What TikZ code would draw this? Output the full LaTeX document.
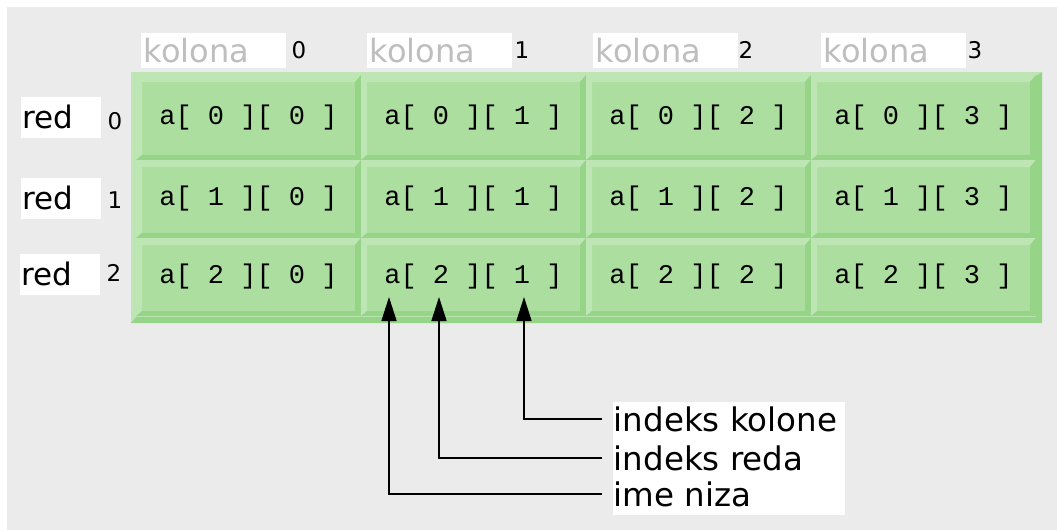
\documentclass[tikz,border=0pt]{standalone}
\usepackage{fontspec}
\setmainfont{DejaVu Sans}
\newfontfamily\cellfont{Liberation Mono}
\usetikzlibrary{arrows.meta}

\definecolor{bggray}{RGB}{235,235,235}
\definecolor{cellface}{RGB}{171,222,159}
\definecolor{celllite}{RGB}{190,230,180}
\definecolor{celldark}{RGB}{150,212,136}
\definecolor{kolgray}{RGB}{190,190,190}

\tikzset{
	every path/.style={line width=1.6pt},
	frame/.style={
		fill=celllite,
		minimum width=911pt,
		minimum height=251pt,
		inner sep=0pt,
		path picture={
			\fill[celldark] (path picture bounding box.south west) -- (path picture bounding box.south east)
				-- (path picture bounding box.north east) -- ([shift={(-6pt,-4pt)}]path picture bounding box.north east)
				-- ([shift={(-6pt,6pt)}]path picture bounding box.south east)
				-- ([shift={(5pt,6pt)}]path picture bounding box.south west) -- cycle;
		},
	},
	cell/.style={
		fill=cellface,
		minimum width=225pt,
		minimum height=78pt,
		inner sep=0pt,
		font=\cellfont\fontsize{27}{30}\selectfont,
		path picture={
			\fill[celllite] (path picture bounding box.north west) -- (path picture bounding box.north east)
				-- ([shift={(-6pt,-7pt)}]path picture bounding box.north east)
				-- ([shift={(6pt,-7pt)}]path picture bounding box.north west)
				-- ([shift={(6pt,5pt)}]path picture bounding box.south west)
				-- (path picture bounding box.south west) -- cycle;
			\fill[celldark] (path picture bounding box.south east) -- (path picture bounding box.north east)
				-- ([shift={(-6pt,-7pt)}]path picture bounding box.north east)
				-- ([shift={(-6pt,5pt)}]path picture bounding box.south east)
				-- ([shift={(6pt,5pt)}]path picture bounding box.south west)
				-- (path picture bounding box.south west) -- cycle;
		},
	},
	colbox/.style={
		fill=white,
		text=kolgray,
		anchor=west,
		text width=139pt,
		align=left,
		inner xsep=3pt,
		minimum height=35pt,
		font=\fontsize{32}{35}\selectfont,
	},
	rowbox/.style={
		fill=white,
		anchor=west,
		text width=76pt,
		align=left,
		inner xsep=2pt,
		minimum height=41pt,
		font=\fontsize{31}{34}\selectfont,
	},
	idx/.style={
		inner sep=0pt,
		font=\fontsize{23}{25}\selectfont,
	},
	labelbox/.style={
		fill=white,
		minimum width=232pt,
		minimum height=113pt,
		inner sep=0pt,
	},
	part/.style={
		anchor=west,
		inner xsep=11pt,
		inner ysep=0pt,
		font=\fontsize{32.5}{35}\selectfont,
	},
	ptr/.style={
		-{Triangle[length=24pt,width=15pt]},
	},
}

\begin{document}
\begin{tikzpicture}[x=1pt,y=-1pt]
	\useasboundingbox (0,0) rectangle (1057,530);
	\fill[bggray] (7,7) rectangle (1057,530);

	% column headers
	\node[colbox] (kol0) at (140,50.5) {kolona};
	\node[colbox] (kol1) at (366,50.5) {kolona};
	\node[colbox] (kol2) at (592,50.5) {kolona};
	\node[colbox] (kol3) at (820,50.5) {kolona};
	\node[idx] (kn0) at (299,50) {0};
	\node[idx] (kn1) at (522,50) {1};
	\node[idx] (kn2) at (746,50) {2};
	\node[idx] (kn3) at (975,50) {3};

	% row headers
	\node[rowbox] (red0) at (20,117) {red};
	\node[rowbox] (red1) at (20,198) {red};
	\node[rowbox] (red2) at (19,274) {red};
	\node[idx] (rn0) at (115,121) {0};
	\node[idx] (rn1) at (115,200) {1};
	\node[idx] (rn2) at (114,273) {2};

	% the array
	\node[frame] (grid) at (586.5,197.5) {};

	\node[cell,minimum height=85pt] (c00) at (248.5,117.5) {a[ 0 ][ 0 ]};
	\node[cell,minimum height=85pt] (c01) at (473.5,117.5) {a[ 0 ][ 1 ]};
	\node[cell,minimum height=85pt] (c02) at (698.5,117.5) {a[ 0 ][ 2 ]};
	\node[cell,minimum height=85pt] (c03) at (923.5,117.5) {a[ 0 ][ 3 ]};

	\node[cell] (c10) at (248.5,199) {a[ 1 ][ 0 ]};
	\node[cell] (c11) at (473.5,199) {a[ 1 ][ 1 ]};
	\node[cell] (c12) at (698.5,199) {a[ 1 ][ 2 ]};
	\node[cell] (c13) at (923.5,199) {a[ 1 ][ 3 ]};

	\node[cell] (c20) at (248.5,277) {a[ 2 ][ 0 ]};
	\node[cell] (c21) at (473.5,277) {a[ 2 ][ 1 ]};
	\node[cell] (c22) at (698.5,277) {a[ 2 ][ 2 ]};
	\node[cell] (c23) at (923.5,277) {a[ 2 ][ 3 ]};

	% parts of a[ 2 ][ 1 ]
	\coordinate (tipime) at (389,297);
	\coordinate (tipred) at (439,297);
	\coordinate (tipkol) at (524,297);

	\node[labelbox] (lbox) at (729,458.5) {};
	\node[part] (kolone) at (602,419) {indeks kolone};
	\node[part] (reda)   at (602,458) {indeks reda};
	\node[part] (ime)    at (602,494) {ime niza};

	\draw[ptr] (kolone.west) -| (tipkol);
	\draw[ptr] (reda.west) -| (tipred);
	\draw[ptr] (ime.west) -| (tipime);

\end{tikzpicture}
\end{document}
